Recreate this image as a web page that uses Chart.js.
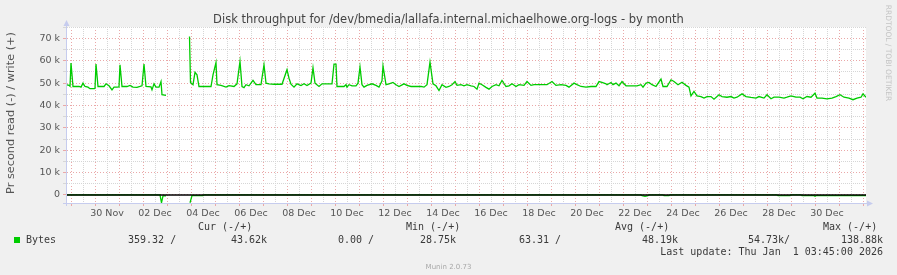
<!DOCTYPE html>
<html lang="en">
  <head>
    <meta charset="UTF-8" />
    <script src="https://cdn.jsdelivr.net/npm/chart.js"></script>
    <title>Disk throughput - by month</title>
    <style>
      html, body { margin: 0; padding: 0; background: #f0f0f0; }
    </style>
  </head>
  <body>
    <canvas id="chart" width="897" height="275"></canvas>
  </body>
</html>
<script>
  // hours since the left edge of the graph (33 days ending Thu Jan 1 03:45)
  const writeHours = [
    0, 3, 4, 5, 7, 13, 15, 17, 19, 22, 24, 28, 29, 30, 32, 38, 40, 43, 46, 48,
    51, 53, 54, 56, 61, 64, 67, 71, 74, 76, 78, 80, 85, 86, 88, 90, 93, 95, 96, 100,
    101, 123.5, 124.5, 127, 129, 131, 133, 145, 147, 150, 151, 155, 160, 163, 168, 171, 174, 176, 178, 180,
    183, 187, 190, 195, 198, 200, 203, 208, 216, 221, 223, 225, 228, 231, 235, 238, 241, 245, 247, 249,
    253, 256, 261, 266, 268, 270, 271, 278, 280, 281, 283, 286, 290, 292, 294, 296, 298, 301, 306, 310,
    313, 316, 317, 320, 323, 327, 330, 333, 338, 341, 345, 355, 358, 361, 364, 367, 370, 373, 376, 380,
    383, 386, 389, 391, 395, 398, 401, 405, 408, 411, 413, 416, 420, 423, 426, 430, 433, 436, 440, 443,
    446, 450, 453, 458, 461, 465, 468, 481, 486, 490, 495, 500, 503, 508, 511, 515, 520, 525, 530, 533,
    536, 540, 541, 545, 547, 550, 553, 556, 560, 565, 571, 575, 577, 580, 583, 586, 590, 595, 597, 601,
    605, 608, 612, 616, 620, 623, 625, 628, 631, 635, 638, 641, 645, 648, 653, 656, 661, 665, 668, 671,
    676, 680, 685, 690, 693, 698, 701, 705, 708, 713, 718, 721, 725, 730, 734, 737, 741, 745, 749, 751,
    756, 761, 766, 770, 774, 778, 783, 787, 791, 795, 797, 800,
  ];
  // write bytes per second (+)
  const writeBytes = [
    49300, 49000, 48600, 59000, 48500, 48500, 48200, 50000, 48500, 48200, 47500, 47500, 47600, 58500, 48500, 48500, 49700, 48800, 47000, 48200,
    48200, 48300, 58200, 48500, 48500, 49000, 48200, 48100, 48500, 48800, 58500, 48500, 48300, 47000, 49700, 48200, 48200, 50700, 44800, 44500,
    null, 70900, 50300, 49300, 54800, 53700, 48500, 48500, 53700, 59200, 49300, 49000, 48200, 48900, 48500, 49700, 59700, 48500, 48000, 49300,
    48800, 51200, 49300, 49300, 58200, 50000, 49700, 49500, 49500, 56000, 52200, 49500, 48200, 49700, 48900, 49700, 48900, 50000, 56900, 50000,
    48500, 49700, 49700, 49700, 58500, 58500, 48500, 48500, 49300, 48200, 49300, 48800, 48800, 50000, 57200, 49300, 48200, 49000, 49700, 49000,
    48200, 51000, 57700, 49300, 49700, 50300, 49300, 48500, 49700, 49000, 48500, 48500, 48200, 49300, 59400, 49700, 48800, 46700, 49300, 48100,
    48500, 49300, 50700, 49000, 49300, 48800, 49300, 48800, 48500, 47300, 50000, 49300, 48100, 47300, 48500, 49300, 48800, 51200, 48500, 48800,
    49700, 48500, 49300, 49000, 50700, 49000, 49300, 49300, 50700, 49000, 49300, 49000, 48200, 50000, 49300, 48500, 48200, 48500, 48500, 50700,
    50300, 49700, 49300, 50300, 49300, 50000, 48800, 50700, 48800, 48800, 48800, 49300, 48200, 50000, 50300, 49300, 48500, 51800, 48500, 48500,
    51500, 50700, 49300, 50400, 49000, 48200, 44300, 46300, 44300, 44000, 43300, 44000, 44000, 42800, 44800, 44000, 43700, 44000, 43300, 43700,
    45200, 44000, 43600, 43300, 44000, 43300, 44800, 43000, 43700, 43700, 43300, 43700, 44300, 43700, 43700, 43000, 44000, 43700, 45500, 43300,
    43300, 43000, 43300, 44000, 44800, 43700, 43300, 42600, 43300, 43700, 45200, 43700,
  ];
  // read bytes per second (-), drawn below zero
  const readHours = [
    0, 94, 95.5, 97, 100, 101, 124, 126, 137, 138, 575, 576, 579, 582, 583,
    597, 598, 603, 604, 711, 712, 724, 725, 735, 736, 748, 749, 750, 800,
  ];
  const readBytes = [
    0, 0, -3500, -400, -400, null, -3500, -300, -300, 0, 0, -300, -600, -300, 0,
    0, -300, -300, 0, 0, -300, -300, 0, 0, -300, -300, -600, -300, -300,
  ];

  const dateLabels = [
    "30 Nov", "02 Dec", "04 Dec", "06 Dec", "08 Dec", "10 Dec", "12 Dec", "14 Dec",
    "16 Dec", "18 Dec", "20 Dec", "22 Dec", "24 Dec", "26 Dec", "28 Dec", "30 Dec",
  ];
  const yLabels = ["0", "10 k", "20 k", "30 k", "40 k", "50 k", "60 k", "70 k"];

  const legendHeads = ["Cur (-/+)", "Min (-/+)", "Avg (-/+)", "Max (-/+)"];
  const legendValues = ["359.32 /", "43.62k", "0.00 /", "28.75k", "63.31 /", "48.19k", "54.73k/", "138.88k"];

  const MAJOR = "#eaa8a8";
  const MINOR = "#d6d6d6";
  const AXIS = "#c6ccee";
  const GREEN = "#00cc00";

  // grid positions: midnight every 24 h (first at 5 h), noon in between
  const xGrid = [];
  for (let h = 5; h <= 800; h += 12) xGrid.push(h);
  const yGrid = [];
  for (let v = 0; v <= 75000; v += 5000) yGrid.push(v);

  const isMajorX = (v) => (v - 5) % 24 === 0;
  const isMajorY = (v) => v % 10000 === 0;

  const decor = {
    id: "decor",
    beforeDraw(chart) {
      const { ctx, chartArea: a } = chart;
      ctx.save();
      ctx.fillStyle = "#f0f0f0";
      ctx.fillRect(0, 0, chart.width, chart.height);
      ctx.fillStyle = "#ffffff";
      ctx.fillRect(a.left, a.top, a.right - a.left, a.bottom - a.top);
      ctx.restore();
    },
    afterDatasetsDraw(chart) {
      // zero line, drawn over the data like munin does
      const { ctx, chartArea: a, scales } = chart;
      const y0 = scales.y.getPixelForValue(0);
      ctx.save();
      ctx.strokeStyle = "#000000";
      ctx.lineWidth = 1.5;
      ctx.beginPath();
      ctx.moveTo(a.left, y0);
      ctx.lineTo(a.right, y0);
      ctx.stroke();
      ctx.restore();
    },
    afterDraw(chart) {
      const { ctx, chartArea: a } = chart;
      ctx.save();

      // axis arrows
      ctx.strokeStyle = AXIS;
      ctx.fillStyle = AXIS;
      ctx.lineWidth = 1;
      ctx.beginPath();
      ctx.moveTo(a.left + 0.5, a.bottom + 3);
      ctx.lineTo(a.left + 0.5, a.top - 3);
      ctx.moveTo(a.left - 3, a.bottom + 0.5);
      ctx.lineTo(a.right + 3, a.bottom + 0.5);
      ctx.stroke();
      ctx.beginPath();
      ctx.moveTo(a.left + 0.5, a.top - 7);
      ctx.lineTo(a.left - 2.5, a.top - 1);
      ctx.lineTo(a.left + 3.5, a.top - 1);
      ctx.fill();
      ctx.beginPath();
      ctx.moveTo(a.right + 7, a.bottom + 0.5);
      ctx.lineTo(a.right + 1, a.bottom - 2.5);
      ctx.lineTo(a.right + 1, a.bottom + 3.5);
      ctx.fill();

      // title
      ctx.fillStyle = "#444444";
      ctx.font = '11.5px "DejaVu Sans"';
      ctx.textAlign = "center";
      ctx.textBaseline = "alphabetic";
      ctx.fillText(
        "Disk throughput for /dev/bmedia/lallafa.internal.michaelhowe.org-logs - by month",
        448.5,
        22.5
      );

      // vertical axis title
      ctx.save();
      ctx.translate(11, 113);
      ctx.rotate(-Math.PI / 2);
      ctx.fillStyle = "#555555";
      ctx.font = '11.3px "DejaVu Sans"';
      ctx.textBaseline = "middle";
      ctx.fillText("Pr second read (-) / write (+)", 0, 0);
      ctx.restore();

      // watermark on the right
      ctx.save();
      ctx.translate(888, 53);
      ctx.rotate(Math.PI / 2);
      ctx.fillStyle = "#c4c4c4";
      ctx.font = '7.5px "DejaVu Sans"';
      ctx.textAlign = "center";
      ctx.textBaseline = "middle";
      ctx.fillText("RRDTOOL / TOBI OETIKER", 0, 0);
      ctx.restore();

      // legend
      ctx.font = '10px "DejaVu Sans Mono"';
      ctx.fillStyle = "#3a3a3a";
      ctx.textAlign = "left";
      ctx.textBaseline = "middle";
      const headX = [198, 406, 615, 823];
      legendHeads.forEach((t, i) => ctx.fillText(t, headX[i], 227.5));
      ctx.fillStyle = GREEN;
      ctx.fillRect(14, 237, 6, 6);
      ctx.fillStyle = "#3a3a3a";
      ctx.fillText("Bytes", 26, 240);
      const valX = [128, 231, 338, 420, 519, 642, 748, 841];
      legendValues.forEach((t, i) => ctx.fillText(t, valX[i], 240));
      ctx.textAlign = "right";
      ctx.fillText("Last update: Thu Jan  1 03:45:00 2026", 883, 252);

      ctx.fillStyle = "#a8a8a8";
      ctx.font = '7px "DejaVu Sans"';
      ctx.textAlign = "center";
      ctx.fillText("Munin 2.0.73", 448.5, 267);
      ctx.restore();
    },
  };

  const ctx = document.getElementById("chart").getContext("2d");
  new Chart(ctx, {
    type: "line",
    data: {
      datasets: [
        {
          label: "write",
          data: writeHours.map((h, i) => ({ x: h, y: writeBytes[i] })),
          borderColor: GREEN,
          borderWidth: 1.3,
          pointRadius: 0,
          tension: 0,
          spanGaps: false,
        },
        {
          label: "read",
          data: readHours.map((h, i) => ({ x: h, y: readBytes[i] })),
          borderColor: GREEN,
          borderWidth: 1.3,
          pointRadius: 0,
          tension: 0,
          spanGaps: false,
        },
      ],
    },
    options: {
      responsive: false,
      animation: false,
      layout: { padding: { left: 0, top: 27, right: 31, bottom: 0 } },
      plugins: { legend: { display: false }, tooltip: { enabled: false } },
      scales: {
        x: {
          type: "linear",
          min: 0,
          max: 800,
          afterBuildTicks: (s) => {
            s.ticks = xGrid.map((v) => ({ value: v }));
          },
          afterFit: (s) => {
            s.height = 72;
          },
          grid: {
            color: (c) => (c.tick && isMajorX(c.tick.value) ? MAJOR : MINOR),
            tickColor: (c) => (c.tick && isMajorX(c.tick.value) ? MAJOR : "rgba(0,0,0,0)"),
            tickLength: 3,
            lineWidth: 1,
          },
          border: {
            color: AXIS,
            dash: (c) => (c.tick && isMajorX(c.tick.value) ? [1, 2] : [1, 1]),
          },
          ticks: {
            autoSkip: false,
            maxRotation: 0,
            padding: 2,
            color: "#555555",
            font: { family: "DejaVu Sans", size: 9.5 },
            callback: (v) => ((v - 41) % 48 === 0 ? dateLabels[(v - 41) / 48] : ""),
          },
        },
        y: {
          min: -3600,
          max: 75100,
          afterBuildTicks: (s) => {
            s.ticks = yGrid.map((v) => ({ value: v }));
          },
          afterFit: (s) => {
            s.width = 66;
          },
          grid: {
            color: (c) => (c.tick && isMajorY(c.tick.value) ? MAJOR : MINOR),
            tickColor: (c) => (c.tick && isMajorY(c.tick.value) ? MAJOR : MINOR),
            tickLength: 3,
            lineWidth: 1,
          },
          border: {
            color: AXIS,
            dash: (c) => (c.tick && isMajorY(c.tick.value) ? [1, 2] : [1, 1]),
          },
          ticks: {
            autoSkip: false,
            padding: 3,
            color: "#555555",
            font: { family: "DejaVu Sans", size: 9.5 },
            callback: (v) => (isMajorY(v) ? yLabels[v / 10000] : ""),
          },
        },
      },
    },
    plugins: [decor],
  });
</script>
